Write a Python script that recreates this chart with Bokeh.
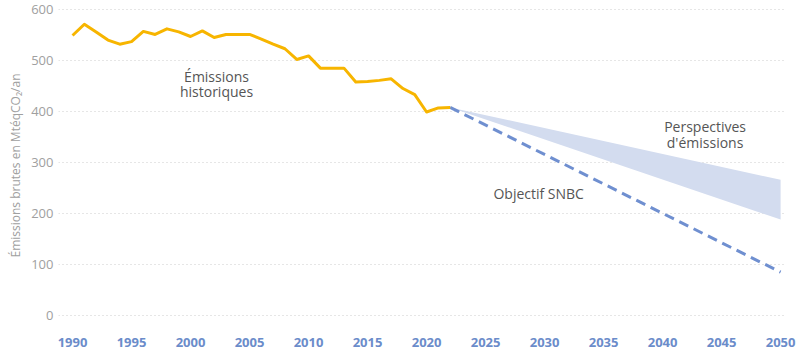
from bokeh.plotting import figure
from bokeh.models import Label, Range1d, FixedTicker
from bokeh.embed import file_html
from bokeh.resources import INLINE

# ---- data ----
hist_years = list(range(1990, 2023))
hist_values = [549, 571, 556, 540, 532, 537, 557, 551, 562, 556,
               547, 558, 545, 551, 551, 551, 542, 532, 523, 502,
               509, 485, 485, 485, 458, 459, 461, 464, 445, 433,
               399, 407, 408]

proj_years = [2022, 2050]
snbc_values = [408, 85]
band_low = [408, 188]
band_high = [408, 266]

x_ticks = [1990, 1995, 2000, 2005, 2010, 2015, 2020, 2025, 2030, 2035, 2040, 2045, 2050]
y_ticks = [0, 100, 200, 300, 400, 500, 600]

FONT = "Open Sans"

p = figure(width=800, height=355, output_backend="svg", toolbar_location=None,
           x_range=Range1d(1988.81, 2050.5), y_range=Range1d(-19.6, 607.8),
           min_border_left=58, min_border_right=14, min_border_top=5, min_border_bottom=30)
p.outline_line_color = None
p.background_fill_color = "white"
p.border_fill_color = "white"

# grid
p.xgrid.grid_line_color = None
p.ygrid.grid_line_color = "#cccccc"
p.ygrid.grid_line_dash = "1 3"
p.ygrid.grid_line_width = 1
p.ygrid.ticker = FixedTicker(ticks=y_ticks)

# axes
p.xaxis.ticker = FixedTicker(ticks=x_ticks)
p.yaxis.ticker = FixedTicker(ticks=y_ticks)
for ax in (p.xaxis[0], p.yaxis[0]):
    ax.axis_line_color = None
    ax.major_tick_line_color = None
    ax.minor_tick_line_color = None
    ax.major_tick_in = 0
    ax.major_tick_out = 0
    ax.minor_tick_in = 0
    ax.minor_tick_out = 0
    ax.major_label_text_font = FONT
    ax.major_label_text_font_size = "13px"

p.xaxis.major_label_text_color = "#6b8cca"
p.xaxis.major_label_text_font_style = "bold"
p.xaxis.major_label_standoff = 12

p.yaxis.major_label_text_color = "#a0a0a0"
p.yaxis.major_label_standoff = 5
p.yaxis.axis_label = "Émissions brutes en MtéqCO₂/an"
p.yaxis.axis_label_text_font = FONT
p.yaxis.axis_label_text_font_size = "12px"
p.yaxis.axis_label_text_font_style = "normal"
p.yaxis.axis_label_text_color = "#a0a0a0"
p.yaxis.axis_label_standoff = 4

# projection band
p.varea(x=proj_years, y1=band_low, y2=band_high, fill_color="#d3dcef", fill_alpha=1.0)
# SNBC target
p.line(proj_years, snbc_values, line_color="#6f8fd0", line_width=3, line_dash="10 6")
# historical emissions
p.line(hist_years, hist_values, line_color="#f7b500", line_width=3, line_join="round")

def lab(x, y, t):
    p.add_layout(Label(x=x, y=y, text=t, text_align="center", text_baseline="middle",
                       text_font=FONT, text_font_size="14px", text_color="#555555"))

lab(2002.2, 469, "Émissions")
lab(2002.2, 439, "historiques")
lab(2043.6, 371, "Perspectives")
lab(2043.6, 339, "d'émissions")
lab(2029.5, 239, "Objectif SNBC")

open("out.html", "w").write(file_html(p, INLINE))
